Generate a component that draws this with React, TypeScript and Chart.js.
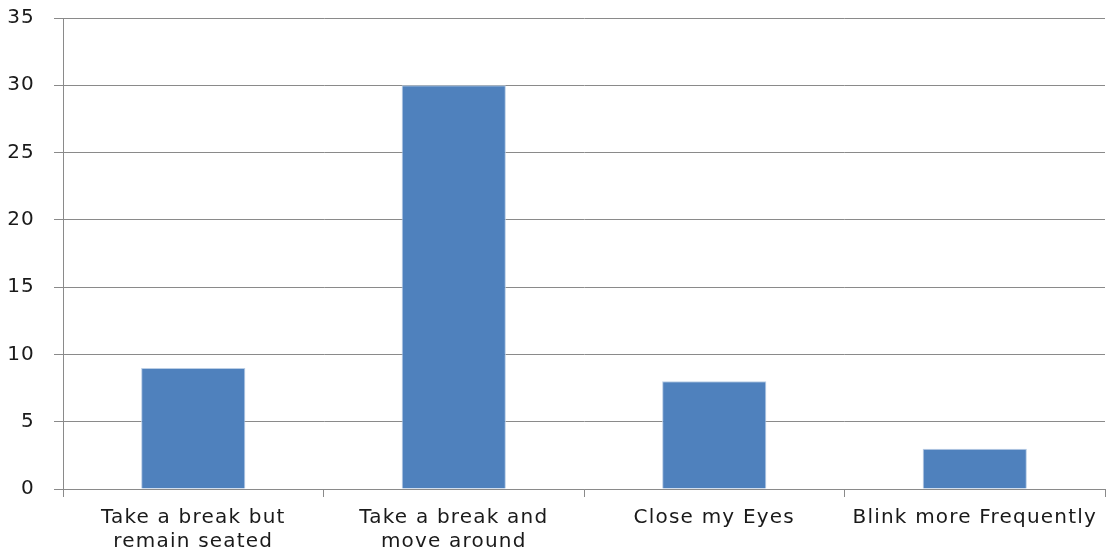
import React, { useEffect, useRef } from "react";
import { Chart, registerables } from "chart.js";

Chart.register(...registerables);

const categories: (string | string[])[] = [
  ["Take a break but", "remain seated"],
  ["Take a break and", "move around"],
  "Close my Eyes",
  "Blink more Frequently",
];
const values: number[] = [9, 30, 8, 3];
const yMin = 0;
const yMax = 35;
const yStep = 5;

const spacingPlugin = {
  id: "letterSpacing",
  beforeUpdate(chart: any) {
    chart.ctx.letterSpacing = "1.2px";
  },
  beforeDraw(chart: any) {
    chart.ctx.letterSpacing = "1.2px";
  },
};

export default function App() {
  const ref = useRef<HTMLCanvasElement | null>(null);
  useEffect(() => {
    document.body.style.margin = "0";
    const ctx = ref.current!;
    const font = { family: "DejaVu Sans", size: 20 };
    const chart = new Chart(ctx, {
      type: "bar",
      plugins: [spacingPlugin],
      data: {
        labels: categories,
        datasets: [
          {
            data: values,
            backgroundColor: "#4F81BD",
            borderColor: "#B9CDE5",
            borderWidth: { left: 1, right: 1, top: 1, bottom: 0 },
            categoryPercentage: 0.4,
            barPercentage: 1,
          },
        ],
      },
      options: {
        responsive: false,
        animation: false,
        layout: { padding: { top: 18, right: 2, left: 0, bottom: 0 } },
        plugins: { legend: { display: false }, tooltip: { enabled: false } },
        scales: {
          x: {
            offset: true,
            grid: {
              offset: true,
              drawOnChartArea: false,
              drawTicks: true,
              tickLength: 8,
              color: "#8A8A8A",
              lineWidth: 1,
            },
            border: { color: "#8A8A8A", width: 1 },
            ticks: {
              autoSkip: false,
              maxRotation: 0,
              minRotation: 0,
              padding: 9,
              color: "#1a1a1a",
              font: { ...font, lineHeight: 1.2 },
            },
            afterFit: (s: any) => {
              s.height = 65;
              s.paddingLeft = 0;
              s.paddingRight = 0;
            },
          },
          y: {
            min: yMin,
            max: yMax,
            ticks: {
              stepSize: yStep,
              padding: 19,
              color: "#1a1a1a",
              font,
            },
            grid: {
              color: "#8A8A8A",
              lineWidth: 1,
              drawTicks: true,
              tickLength: 9,
            },
            border: { color: "#8A8A8A", width: 1 },
            afterFit: (s: any) => {
              s.width = 63;
              s.paddingTop = 0;
              s.paddingBottom = 0;
            },
          },
        },
      },
    });
    return () => chart.destroy();
  }, []);
  return (
    <div style={{ width: 1107, height: 554, background: "#fff" }}>
      <canvas ref={ref} width={1107} height={554} style={{ display: "block" }} />
    </div>
  );
}
